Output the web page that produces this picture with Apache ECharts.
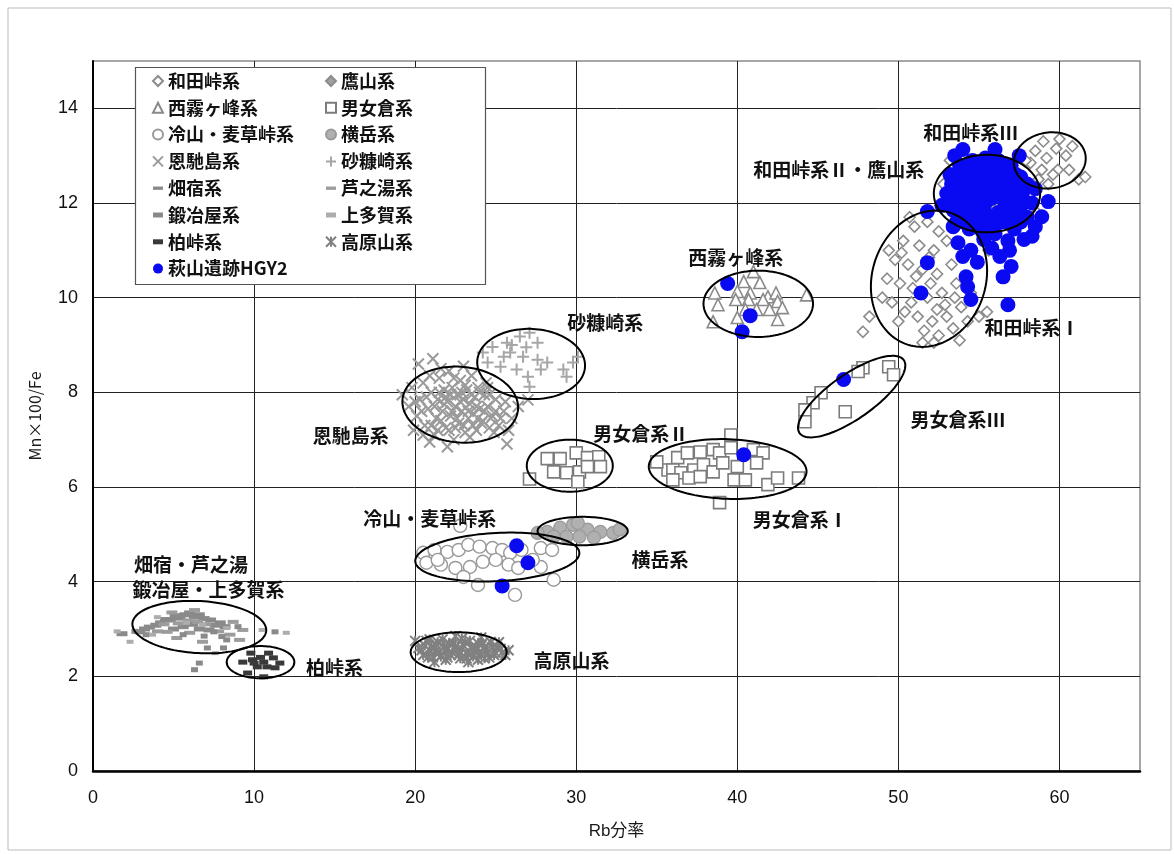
<!DOCTYPE html>
<html>
<head>
<meta charset="utf-8">
<script src="https://cdn.jsdelivr.net/npm/echarts@6/dist/echarts.min.js"></script>
<style>
  html, body { margin: 0; padding: 0; background: #fff; }
  #chart { width: 1174px; height: 854px; }
</style>
</head>
<body>
<div id="chart"></div>
<script>
// Rb分率 (x) vs Mn×100/Fe (y) for obsidian source groups and HGY2 artefacts

const xTicks = [0, 10, 20, 30, 40, 50, 60];
const yTicks = [0, 2, 4, 6, 8, 10, 12, 14];

const wadaToge = [
  // 和田峠系 III
  [58.5,13.1],[59.2,12.95],[59.8,13.15],[60.4,13.0],[59.9,12.7],[58.9,12.7],[60.6,12.7],[61.2,12.5],
  [59.3,12.4],[58.2,12.85],[60.0,13.35],[59.0,13.3],[60.8,13.2],[58.7,12.5],[59.6,12.6],[61.6,12.55],
  // 和田峠系 II
  [53.2,12.9],[57.9,12.9],[52.8,12.4],[58.6,11.8],[55.6,11.0],
  // 和田峠系 I
  [51.0,11.5],[51.8,11.6],[52.5,11.4],[50.3,11.2],[51.3,11.1],[52.2,11.0],[53.0,11.2],[49.8,10.8],
  [50.6,10.7],[51.5,10.6],[52.4,10.5],[53.3,10.7],[49.3,10.4],[50.1,10.3],[50.9,10.2],[51.8,10.0],
  [52.7,10.1],[53.6,10.3],[49.6,9.9],[50.4,9.7],[51.2,9.6],[52.1,9.5],[53.0,9.6],[53.9,9.8],
  [50.0,9.5],[51.6,9.3],[52.5,9.2],[53.4,9.35],[54.3,9.5],[55.0,9.6],[51.5,9.05],[48.2,9.6],
  [47.8,9.28],[49.0,10.0],[54.5,10.1],[50.7,11.7],[49.4,11.0],[52.9,9.85],[53.8,9.1],[55.5,9.7],[52.2,9.05],
  [50.2,10.95],[51.1,10.45],[52.0,10.3],[50.8,9.9],[52.4,9.75],[53.5,10.0],[51.9,10.85]
];

const takayama = [
  [53.6,12.5],[54.4,12.7],[55.2,12.8],[56.0,12.7],[56.8,12.6],[57.5,12.4],[53.9,12.1],[54.7,12.3],
  [55.5,12.4],[56.3,12.3],[57.1,12.2],[57.8,12.0],[54.3,11.8],[55.1,11.9],[55.9,11.9],[56.7,11.8],
  [57.4,11.6],[55.4,11.6],[56.2,11.5],[53.0,12.0]
];

const nishiKirigamine = [
  [41.0,10.55],[40.4,10.34],[41.4,10.32],[38.6,10.1],[40.0,10.13],[40.8,10.1],[41.9,10.02],[42.4,10.1],
  [38.8,9.85],[39.9,9.96],[40.7,9.96],[41.6,9.96],[42.5,9.92],[44.3,10.06],[41.2,9.75],[42.0,9.75],
  [42.8,9.79],[38.5,9.49],[40.0,9.58],[42.5,9.54],[40.5,9.75]
];

const omegura = [
  // 男女倉系 II
  [28.2,6.6],[29.0,6.6],[30.0,6.72],[30.7,6.62],[31.4,6.64],[31.5,6.43],[28.6,6.32],[29.4,6.3],
  [30.2,6.32],[30.1,6.11],[30.7,6.43],[27.1,6.17],
  // 男女倉系 I
  [39.6,7.1],[36.3,6.62],[36.9,6.72],[37.7,6.74],[38.5,6.79],[38.9,6.72],[39.6,6.83],[41.0,6.79],
  [41.6,6.72],[35.7,6.36],[36.0,6.36],[36.5,6.3],[37.3,6.36],[37.9,6.47],[38.5,6.32],[35.0,6.53],
  [36.0,6.15],[37.0,6.19],[37.7,6.22],[39.8,6.15],[40.5,6.15],[41.2,6.51],[41.9,6.05],[42.5,6.19],
  [43.8,6.19],[38.9,5.67],[40.0,6.43],[39.1,6.51],
  // 男女倉系 III
  [47.8,8.52],[49.4,8.54],[49.7,8.37],[45.2,7.99],[44.7,7.78],[44.2,7.63],[44.2,7.38],[46.7,7.59],[47.5,8.44]
];

const tsumetayama = [
  [22.8,5.18],[20.5,4.61],[21.2,4.67],[22.0,4.63],[22.7,4.67],[23.3,4.78],[24.0,4.74],[24.8,4.71],
  [25.4,4.67],[25.9,4.61],[27.8,4.71],[28.5,4.67],[20.7,4.4],[21.6,4.36],[22.5,4.29],[23.4,4.31],
  [24.2,4.42],[25.0,4.46],[25.8,4.36],[26.4,4.29],[27.8,4.31],[28.6,4.04],[23.9,3.93],[26.2,3.72],
  [23.0,4.1],[21.4,4.46],[27.3,4.46],[26.6,4.67]
];

const yokodake = [
  [28.2,5.05],[29.0,5.14],[29.8,5.2],[30.7,5.1],[31.5,5.05],[32.3,5.03],[29.4,4.95],[30.2,4.95],
  [31.1,4.93],[27.6,5.03],[28.6,4.95],[30.1,5.24],[32.7,5.1]
];

const onbasejima = [
  [19.2,7.95],[19.6,7.7],[19.8,8.1],[20.1,7.5],[20.3,7.85],[20.5,8.2],[20.6,7.3],[20.8,7.65],
  [21.0,8.0],[21.1,8.71],[21.2,7.1],[21.3,7.45],[21.4,7.85],[21.5,8.3],[21.7,7.6],[21.8,8.05],
  [21.9,7.25],[22.0,7.8],[22.1,8.45],[22.2,7.5],[22.3,8.1],[22.4,7.0],[22.5,7.7],[22.6,7.95],
  [22.7,7.35],[22.8,8.25],[22.9,7.6],[23.0,7.85],[23.1,7.15],[23.2,8.05],[23.3,7.45],[23.4,7.75],
  [23.5,8.35],[23.6,7.55],[23.7,7.9],[23.8,7.2],[23.9,8.1],[24.0,7.65],[24.2,7.4],[24.3,7.95],
  [24.5,7.7],[24.6,7.25],[24.8,7.5],[25.0,7.85],[25.2,7.3],[25.5,7.6],[25.8,7.2],[26.0,7.45],
  [25.7,6.91],[20.9,6.95],[22.0,6.85],[19.9,7.2],[21.6,8.5],[23.0,8.55],[24.4,8.2],[26.4,7.7],
  [20.2,8.6],[27.0,7.84],
  [20.4,7.6],[20.7,7.9],[21.0,7.3],[21.2,7.7],[21.5,8.0],[21.6,7.4],[21.9,7.9],[22.1,7.2],
  [22.3,7.6],[22.4,8.3],[22.6,7.45],[22.8,7.8],[23.0,7.3],[23.1,8.15],[23.3,7.6],[23.5,7.95],
  [23.6,7.3],[23.8,7.7],[24.0,8.0],[24.1,7.35],[24.3,7.6],[24.6,7.95],[24.7,7.45],[25.0,7.6],
  [25.3,7.45],[20.0,7.8],[20.9,8.35],[22.2,7.95],[23.4,7.05],[24.9,7.15],[21.4,7.2],[22.9,8.0],
  [23.9,7.45],[21.8,7.75],[22.5,7.25],[24.5,8.1],[20.5,7.1],[25.6,7.8]
];

const sunukazaki = [
  [24.8,8.96],[25.7,9.05],[26.5,9.18],[27.1,9.26],[25.9,8.84],[26.7,8.75],[27.6,8.69],[24.5,8.63],
  [25.3,8.54],[26.3,8.48],[27.0,8.33],[27.8,8.48],[29.4,8.33],[29.8,8.63],[29.2,8.48],[30.1,8.75],
  [27.1,8.12],[28.2,8.63],[24.2,8.84],[27.6,9.05],[26.0,9.0],[26.9,8.95],[25.5,8.75]
];

const hatajuku = [
  [1.8,2.9],[2.9,2.94],[3.5,3.04],[4.2,3.13],[4.8,3.19],[5.4,3.23],[6.0,3.34],[6.6,3.3],[7.3,3.19],[7.9,3.13],
  [3.2,3.0],[3.9,3.08],[4.5,3.2],[5.1,3.28],[5.7,3.3],[6.3,3.25],[6.9,3.22],[7.6,3.08],[8.2,3.05],
  [5.0,3.0],[5.6,3.05],[6.2,3.1],[6.6,3.0],[7.2,2.98]
];
const ashinoyu = [
  [8.7,3.15],[9.3,2.98],[9.1,2.77],[6.8,2.73],[5.2,2.81],[4.6,2.94],[6.0,2.92],
  [4.0,2.95],[4.4,3.1],[5.3,3.12],[5.9,3.18],[6.5,3.15],[7.0,3.1],[7.8,2.95],[8.5,2.88],[4.9,3.35],[6.3,3.4]
];
const kajiya = [
  [7.5,2.94],[8.3,2.77],[8.1,2.6],[7.1,2.6],[11.3,2.94],[6.6,2.28],[6.3,2.14],
  [3.3,2.88],[5.6,2.88],[6.9,2.85],[8.0,2.84],[9.0,3.05],[2.6,2.95]
];
const kamitaga = [
  [2.3,2.73],[7.6,2.49],[3.7,2.88],[5.8,3.13],[6.8,3.09],[8.3,3.02],[1.5,2.95],[12.0,2.92],[10.5,2.98],[4.0,3.25]
];
const kashiwatoge = [
  [9.3,2.3],[9.9,2.35],[10.6,2.3],[11.2,2.39],[11.6,2.28],[10.2,2.2],[9.6,2.07],[10.9,2.49],
  [9.8,2.49],[10.8,2.2],[11.3,2.18],[10.6,1.99],[10.0,2.28],[10.4,2.4]
];

const takaharayama = [
  [20.2,2.6],[20.5,2.45],[20.7,2.75],[20.9,2.55],[21.1,2.4],[21.3,2.68],[21.5,2.5],[21.7,2.78],
  [21.9,2.35],[22.0,2.6],[22.2,2.45],[22.4,2.7],[22.6,2.55],[22.8,2.38],[23.0,2.65],[23.2,2.5],
  [23.4,2.75],[23.6,2.42],[23.8,2.6],[24.0,2.48],[24.2,2.7],[24.4,2.55],[24.6,2.4],[24.8,2.62],
  [25.0,2.5],[25.3,2.58],[25.6,2.45],[25.8,2.55],[21.2,2.3],[22.5,2.85],[23.3,2.3],[24.1,2.82],
  [20.0,2.75],[21.8,2.62],[23.9,2.35],[22.9,2.8],
  [20.4,2.55],[20.6,2.65],[20.8,2.4],[21.0,2.62],[21.2,2.52],[21.4,2.72],[21.6,2.42],[21.9,2.55],
  [22.1,2.7],[22.3,2.5],[22.5,2.62],[22.7,2.45],[22.9,2.58],[23.1,2.72],[23.3,2.48],[23.5,2.62],
  [23.7,2.52],[23.9,2.7],[24.1,2.45],[24.3,2.62],[24.5,2.5],[24.7,2.72],[24.9,2.45],[25.1,2.62],
  [25.4,2.5],[20.9,2.78],[22.0,2.4],[23.2,2.38],[24.3,2.38],[25.2,2.72]
];

const hagiyamaHGY2 = [
  [54.0,13.13],[56.0,13.13],[51.8,11.82],[59.3,12.03],[58.9,11.71],[58.5,11.5],[57.8,11.23],[58.3,11.3],
  [53.4,11.5],[53.7,11.16],[54.0,10.87],[54.5,11.0],[55.3,11.23],[56.3,10.87],[57.0,10.66],[56.5,10.44],
  [51.8,10.74],[54.2,10.44],[54.3,10.23],[54.5,9.96],[51.4,10.1],[56.8,9.85],
  [53.2,12.6],[53.8,12.8],[54.6,12.9],[55.4,12.95],[56.2,12.9],[57.0,12.8],[57.6,12.55],[53.0,12.2],
  [53.7,12.35],[54.5,12.45],[55.3,12.5],[56.1,12.55],[56.9,12.4],[57.7,12.2],[58.3,12.0],[53.4,11.85],
  [54.2,11.95],[55.0,12.05],[55.8,12.1],[56.6,12.0],[57.4,11.85],[58.0,11.7],[54.0,11.6],[54.8,11.65],
  [55.6,11.7],[56.4,11.6],[57.2,11.45],[55.2,11.4],[56.0,11.35],[56.8,11.2],[54.4,12.2],[57.2,12.1],
  [55.9,12.75],[52.7,11.95],[58.5,12.3],[53.5,13.0],[57.5,13.0],[55.0,11.95],[56.3,12.3],[54.0,12.05],
  [54.2,12.8],[55.0,12.8],[55.8,12.8],[56.6,12.8],
  [53.6,12.6],[54.4,12.6],[55.2,12.6],[56.0,12.6],[56.8,12.6],[57.3,12.6],
  [53.3,12.4],[54.1,12.4],[54.9,12.4],[55.7,12.4],[56.5,12.4],[57.3,12.4],[58.0,12.4],
  [53.6,12.2],[55.0,12.2],[55.6,12.2],[56.0,12.2],[56.8,12.2],[57.6,12.2],
  [53.3,12.0],[54.6,12.0],[55.4,12.0],[57.0,12.0],[57.8,12.0],
  [53.8,11.8],[54.6,11.8],[55.4,11.8],[56.2,11.8],[57.0,11.8],
  [53.6,11.6],[55.2,11.6],[56.0,11.6],[56.8,11.6],[57.6,11.6],
  [54.4,11.45],[55.6,11.45],[55.8,11.05],[56.9,11.0],[54.9,10.75],
  // 西霧ヶ峰系 area
  [39.4,10.3],[40.8,9.62],[40.3,9.28],
  // 男女倉系 area
  [46.6,8.27],[40.4,6.68],
  // 冷山・麦草峠系 area
  [26.3,4.76],[27.0,4.4],[25.4,3.91]
];

// Group outlines: [centre x, centre y, semi-axis (x units), semi-axis (y units), tilt in degrees]
const groupEllipses = [
  [59.4, 12.9, 2.24, 0.59, 8],
  [55.5, 12.2, 3.3, 0.82, 0],
  [51.9, 10.4, 4.3, 1.2, 72],
  [41.3, 9.87, 3.4, 0.70, 0],
  [27.2, 8.6, 3.35, 0.74, -3],
  [22.8, 7.74, 3.6, 0.80, -5],
  [29.6, 6.45, 2.67, 0.55, 0],
  [39.4, 6.38, 4.9, 0.63, -2],
  [47.1, 7.91, 3.95, 0.47, 35],
  [30.4, 5.07, 2.8, 0.30, 0],
  [25.1, 4.52, 5.1, 0.51, 3],
  [22.7, 2.51, 2.98, 0.42, 0],
  [6.6, 3.04, 4.16, 0.55, -3],
  [10.4, 2.30, 2.1, 0.34, 0]
];

// Group names: [text, x, y, align]
const groupLabels = [
  ['和田峠系Ⅲ', 54.5, 13.49, 'center'],
  ['和田峠系Ⅱ・鷹山系', 46.3, 12.7, 'center'],
  ['和田峠系Ⅰ', 58.3, 9.37, 'center'],
  ['西霧ヶ峰系', 39.9, 10.85, 'center'],
  ['砂糠崎系', 31.8, 9.47, 'center'],
  ['恩馳島系', 16.0, 7.08, 'center'],
  ['男女倉系Ⅱ', 34.0, 7.12, 'center'],
  ['男女倉系Ⅲ', 53.7, 7.42, 'center'],
  ['男女倉系Ⅰ', 43.9, 5.31, 'center'],
  ['冷山・麦草峠系', 20.9, 5.33, 'center'],
  ['横岳系', 35.2, 4.46, 'center'],
  ['畑宿・芦之湯', 2.55, 4.36, 'left'],
  ['鍛冶屋・上多賀系', 2.45, 3.83, 'left'],
  ['柏峠系', 15.0, 2.18, 'center'],
  ['高原山系', 29.7, 2.33, 'center']
];

const legendLeft = ['和田峠系', '西霧ヶ峰系', '冷山・麦草峠系', '恩馳島系', '畑宿系', '鍛冶屋系', '柏峠系', '萩山遺跡HGY2'];
const legendRight = ['鷹山系', '男女倉系', '横岳系', '砂糠崎系', '芦之湯系', '上多賀系', '高原山系'];

const CROSS = 'path://M0,0L10,10M10,0L0,10';
const PLUS = 'path://M5,0L5,10M0,5L10,5';
const STAR = 'path://M0,0L10,10M10,0L0,10M5,0L5,10';
const DASH_LONG = 'path://M0,0h12v4h-12z';
const DASH_SHORT = 'path://M0,0h8v4h-8z';
const JP = '"Noto Sans CJK JP", "Noto Sans CJK SC", sans-serif';
const NUM = '"Liberation Sans", Arial, sans-serif';

// Legend icons for the short-dash groups
const dashIcon = { '畑宿系': DASH_LONG, '芦之湯系': DASH_LONG, '鍛冶屋系': DASH_SHORT, '上多賀系': DASH_SHORT, '柏峠系': DASH_SHORT };

function pts(name, data, symbol, size, fill, stroke, bw, z) {
  return {
    name, type: 'scatter', data, symbol, symbolSize: size, z: z || 2,
    itemStyle: { color: fill, borderColor: stroke, borderWidth: bw, opacity: 1 },
    emphasis: { disabled: true }, silent: true
  };
}

function legendItems(names) {
  return names.map(n => (dashIcon[n] ? { name: n, icon: dashIcon[n] } : { name: n }));
}

const chart = echarts.init(document.getElementById('chart'), null, { renderer: 'canvas' });

const legendCommon = {
  orient: 'vertical', itemWidth: 10, itemHeight: 10, itemGap: 8.8, z: 10,
  selectedMode: false, padding: 0,
  textStyle: { fontFamily: JP, fontSize: 18, fontWeight: 'bold', color: '#111' }
};

chart.setOption({
  animation: false,
  backgroundColor: '#fff',
  grid: { left: 93, top: 61, right: 34, bottom: 83, show: true, borderColor: '#8a8a8a', borderWidth: 1.5, backgroundColor: '#fff' },
  graphic: [
    { type: 'rect', shape: { x: 8, y: 8, width: 1163, height: 842 }, style: { fill: 'none', stroke: '#bbb', lineWidth: 1 }, z: -10 },
    { type: 'rect', shape: { x: 135.5, y: 67.5, width: 350, height: 217 }, style: { fill: '#fff', stroke: '#555', lineWidth: 1.2 }, z: 5 }
  ],
  legend: [
    Object.assign({ left: 152, top: 72, data: legendItems(legendLeft) }, legendCommon),
    Object.assign({ left: 325, top: 72, data: legendItems(legendRight) }, legendCommon)
  ],
  xAxis: {
    type: 'value', min: 0, max: 65, interval: 10,
    name: 'Rb分率', nameLocation: 'middle', nameGap: 52,
    nameTextStyle: { fontFamily: NUM + ', ' + JP, fontSize: 17, color: '#1a1a1a' },
    axisLine: { lineStyle: { color: '#000', width: 2.5 } },
    axisTick: { show: false },
    axisLabel: { showMaxLabel: false, margin: 18, fontFamily: NUM, fontSize: 18, color: '#111',
      formatter: v => (xTicks.indexOf(v) >= 0 ? String(v) : '') },
    splitLine: { show: true, showMaxLine: false, showMinLine: false, lineStyle: { color: '#222', width: 1 } }
  },
  yAxis: {
    type: 'value', min: 0, max: 15, interval: 2,
    name: 'Mn×100/Fe', nameLocation: 'middle', nameGap: 50,
    nameTextStyle: { fontFamily: JP, fontSize: 16, color: '#1a1a1a' },
    axisLine: { lineStyle: { color: '#000', width: 2 } },
    axisTick: { show: false },
    axisLabel: { showMaxLabel: false, margin: 15, fontFamily: NUM, fontSize: 18, color: '#111',
      formatter: v => (yTicks.indexOf(v) >= 0 ? String(v) : '') },
    splitLine: { show: true, showMaxLine: false, showMinLine: false, lineStyle: { color: '#222', width: 1 } }
  },
  series: [
    pts('和田峠系', wadaToge, 'diamond', 11, '#fff', '#8c8c8c', 1.6),
    pts('鷹山系', takayama, 'diamond', 11, '#a0a0a0', '#8c8c8c', 1.2),
    pts('西霧ヶ峰系', nishiKirigamine, 'triangle', 12, '#fff', '#8a8a8a', 1.6),
    pts('男女倉系', omegura, 'rect', 12, '#fff', '#7c7c7c', 1.6),
    pts('冷山・麦草峠系', tsumetayama, 'circle', 13, '#fff', '#999', 1.4),
    pts('横岳系', yokodake, 'circle', 13, '#b0b0b0', '#999', 1.2),
    pts('恩馳島系', onbasejima, CROSS, 11, 'rgba(0,0,0,0)', '#9a9a9a', 2),
    pts('砂糠崎系', sunukazaki, PLUS, 12, 'rgba(0,0,0,0)', '#a6a6a6', 2),
    pts('畑宿系', hatajuku, 'rect', [11, 5], '#8a8a8a', '#8a8a8a', 0),
    pts('芦之湯系', ashinoyu, 'rect', [11, 4], '#9c9c9c', '#9c9c9c', 0),
    pts('鍛冶屋系', kajiya, 'rect', [7, 5], '#8a8a8a', '#8a8a8a', 0),
    pts('上多賀系', kamitaga, 'rect', [7, 4], '#adadad', '#adadad', 0),
    pts('柏峠系', kashiwatoge, 'rect', [9, 5], '#3a3a3a', '#3a3a3a', 0),
    pts('高原山系', takaharayama, STAR, 10, 'rgba(0,0,0,0)', '#808080', 2),
    pts('萩山遺跡HGY2', hagiyamaHGY2, 'circle', 15, '#0a0af2', '#0a0af2', 0, 4),
    {
      type: 'custom', name: 'groupOutline', silent: true, z: 6,
      data: groupEllipses.map(e => [e[0], e[1]]),
      renderItem: function (params, api) {
        const e = groupEllipses[params.dataIndex];
        const c = api.coord([e[0], e[1]]);
        const s = api.size([e[2], e[3]]);
        const a = s[0], b = s[1];
        const th = e[4] * Math.PI / 180;
        const ring = [];
        for (let i = 0; i < 120; i++) {
          const t = i / 120 * Math.PI * 2;
          const lx = a * Math.cos(t), ly = b * Math.sin(t);
          ring.push([c[0] + lx * Math.cos(th) - ly * Math.sin(th), c[1] - (lx * Math.sin(th) + ly * Math.cos(th))]);
        }
        return { type: 'polygon', shape: { points: ring }, style: { fill: 'none', stroke: '#000', lineWidth: 2 } };
      }
    },
    {
      type: 'custom', name: 'groupName', silent: true, z: 7,
      data: groupLabels.map(l => [l[1], l[2]]),
      renderItem: function (params, api) {
        const l = groupLabels[params.dataIndex];
        const c = api.coord([l[1], l[2]]);
        return {
          type: 'text', x: c[0], y: c[1],
          style: { text: l[0], fill: '#111', font: 'bold 19px ' + JP, align: l[3], verticalAlign: 'middle' }
        };
      }
    }
  ]
});
</script>
</body>
</html>
